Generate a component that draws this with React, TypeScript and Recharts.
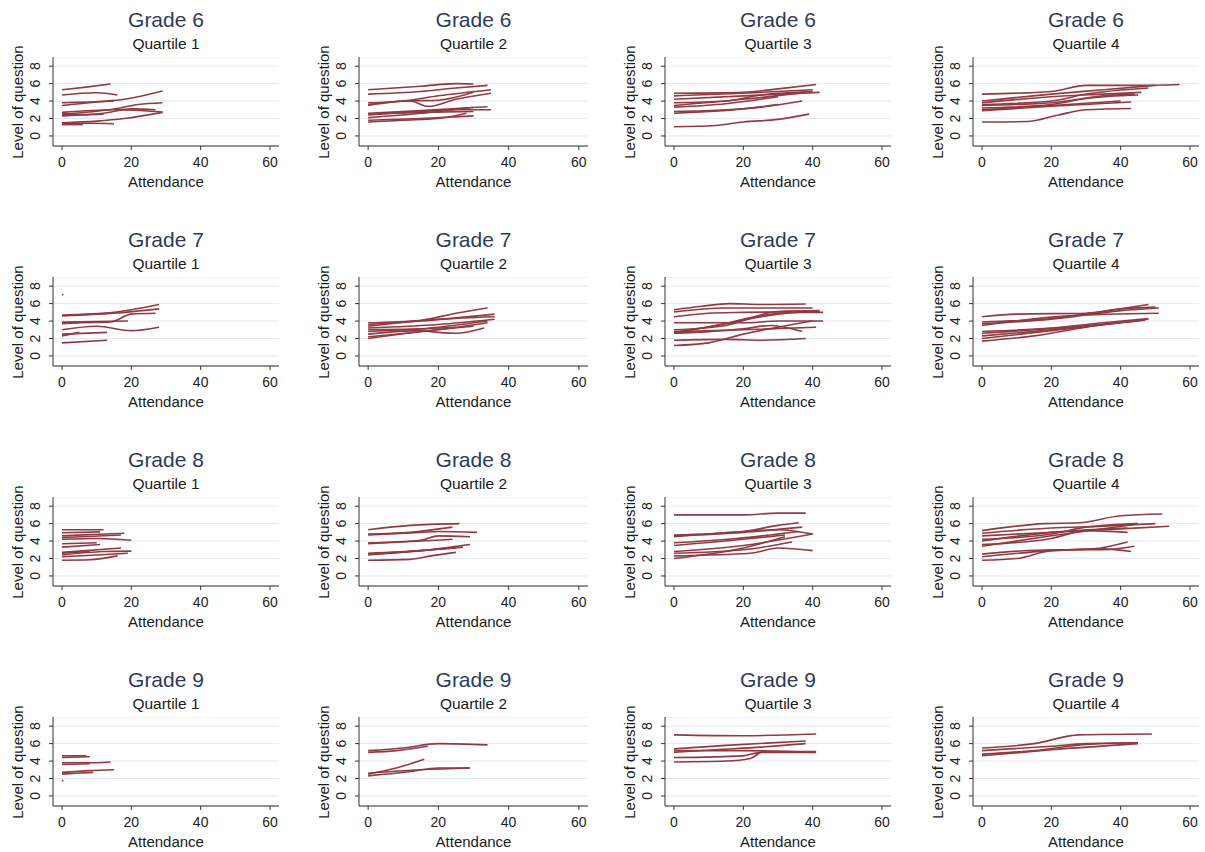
import React from "react";
import { CartesianGrid, Line, LineChart, XAxis, YAxis } from "recharts";

type Pt = [number, number];

// each trajectory: [attendance, level] points
const g6q1: Pt[][] = [
  [[0, 5.3], [7, 5.6], [14, 5.95]],
  [[0, 4.7], [10, 4.95], [16, 4.7]],
  [[0, 3.5], [10, 3.9], [18, 4.2], [29, 5.15]],
  [[0, 3.8], [8, 3.9], [15, 4.0]],
  [[0, 2.5], [15, 3.1], [22, 3.6], [29, 3.8]],
  [[0, 2.7], [15, 3.0], [29, 2.75]],
  [[0, 2.3], [12, 2.6], [20, 3.1], [27, 3.0]],
  [[0, 2.5], [6, 2.45], [12, 2.5]],
  [[0, 1.5], [10, 1.7], [18, 2.0], [29, 2.7]],
  [[0, 1.4], [8, 1.45], [15, 1.4]],
  [[0, 1.3], [6, 1.3]],
];
const g6q2: Pt[][] = [
  [[0, 5.3], [15, 5.7], [25, 6.0], [30, 5.95]],
  [[0, 4.8], [15, 5.1], [25, 5.5], [34, 5.8]],
  [[0, 3.8], [10, 4.0], [20, 4.6], [35, 5.3]],
  [[0, 3.5], [12, 4.0], [17, 3.4], [25, 4.2], [35, 4.9]],
  [[0, 3.6], [10, 4.0], [20, 4.1], [30, 5.0]],
  [[0, 2.6], [15, 2.9], [34, 3.35]],
  [[0, 2.4], [15, 2.8], [25, 3.0], [35, 3.0]],
  [[0, 2.1], [15, 2.6], [30, 3.3]],
  [[0, 1.8], [15, 2.0], [30, 2.3]],
  [[0, 1.6], [10, 1.8], [20, 2.0], [28, 2.6]],
  [[0, 2.5], [15, 2.7], [30, 2.8]],
];
const g6q3: Pt[][] = [
  [[0, 4.9], [20, 5.0], [30, 5.4], [41, 5.9]],
  [[0, 4.6], [20, 4.9], [40, 5.3]],
  [[0, 4.2], [20, 4.6], [42, 5.0]],
  [[0, 3.8], [15, 4.0], [25, 4.7], [40, 5.1]],
  [[0, 3.5], [20, 4.2], [38, 5.0]],
  [[0, 3.3], [15, 3.7], [30, 4.5]],
  [[0, 2.8], [15, 3.0], [25, 3.3], [37, 4.0]],
  [[0, 2.6], [20, 3.1], [30, 3.6]],
  [[0, 1.05], [12, 1.2], [20, 1.6], [30, 1.9], [39, 2.5]],
];
const g6q4: Pt[][] = [
  [[0, 4.8], [20, 5.1], [30, 5.8], [45, 5.8], [57, 5.9]],
  [[0, 4.0], [20, 4.8], [35, 5.3], [50, 5.8]],
  [[0, 3.8], [20, 4.5], [35, 4.8], [46, 5.0]],
  [[0, 3.6], [20, 4.0], [30, 4.8], [48, 5.5]],
  [[0, 3.5], [20, 3.8], [35, 4.6], [44, 4.8]],
  [[0, 3.2], [20, 3.6], [30, 4.3], [45, 4.7]],
  [[0, 2.9], [20, 3.4], [43, 3.9]],
  [[0, 3.0], [20, 3.5], [40, 4.0]],
  [[0, 1.6], [13, 1.65], [22, 2.4], [30, 3.0], [43, 3.15]],
];

const g7q1: Pt[][] = [
  [[0, 7.05], [0.4, 7.0]],
  [[0, 4.7], [15, 5.0], [20, 5.3], [28, 5.9]],
  [[0, 4.6], [15, 4.9], [28, 5.4]],
  [[0, 3.8], [14, 3.9], [20, 4.8], [27, 4.9]],
  [[0, 3.9], [10, 3.95], [19, 4.0]],
  [[0, 3.7], [5, 3.8]],
  [[0, 3.0], [10, 3.4], [20, 2.9], [28, 3.3]],
  [[0, 2.5], [13, 2.7]],
  [[0, 2.3], [5, 2.7]],
  [[0, 1.5], [13, 1.8]],
];
const g7q2: Pt[][] = [
  [[0, 3.8], [15, 4.1], [25, 4.9], [34, 5.5]],
  [[0, 3.6], [15, 4.0], [36, 4.8]],
  [[0, 3.4], [20, 4.2], [36, 4.5]],
  [[0, 3.2], [20, 3.6], [36, 4.2]],
  [[0, 2.8], [20, 3.3], [34, 4.0]],
  [[0, 2.5], [15, 2.9], [20, 2.7], [25, 2.6], [33, 3.2]],
  [[0, 2.0], [15, 2.8], [30, 3.4]],
  [[0, 2.2], [20, 3.0], [34, 3.8]],
  [[0, 3.0], [15, 3.1], [25, 3.3]],
];
const g7q3: Pt[][] = [
  [[0, 5.3], [8, 5.7], [16, 6.0], [25, 5.9], [38, 5.95]],
  [[0, 5.05], [15, 5.5], [40, 5.5]],
  [[0, 4.5], [10, 4.9], [20, 5.0], [42, 5.1]],
  [[0, 3.8], [20, 3.8], [30, 4.0], [43, 4.0]],
  [[0, 2.7], [12, 3.5], [25, 4.6], [35, 5.0], [43, 5.0]],
  [[0, 2.6], [15, 3.7], [30, 4.8], [40, 5.1]],
  [[0, 2.8], [20, 3.0], [41, 3.3]],
  [[0, 2.6], [20, 3.1], [28, 3.5], [37, 2.8]],
  [[0, 3.0], [15, 3.5], [30, 5.1], [42, 5.2]],
  [[0, 1.8], [15, 1.9], [25, 1.8], [38, 2.0]],
  [[0, 1.2], [10, 1.5], [20, 2.5], [30, 3.3], [40, 4.0]],
];
const g7q4: Pt[][] = [
  [[0, 4.5], [10, 4.8], [30, 4.9], [40, 5.4], [50, 5.6]],
  [[0, 3.9], [20, 4.3], [35, 5.1], [48, 5.9]],
  [[0, 3.7], [20, 4.2], [40, 5.2], [51, 5.5]],
  [[0, 3.5], [25, 4.6], [51, 4.9]],
  [[0, 2.8], [20, 3.2], [35, 3.8], [48, 4.3]],
  [[0, 2.6], [25, 3.3], [47, 4.1]],
  [[0, 2.3], [20, 3.0], [45, 4.0]],
  [[0, 1.7], [15, 2.3], [30, 3.3], [48, 4.2]],
  [[0, 2.0], [20, 2.9], [40, 3.8]],
];

const g8q1: Pt[][] = [
  [[0, 5.3], [12, 5.3]],
  [[0, 4.95], [11, 5.05]],
  [[0, 4.6], [9, 4.75], [18, 4.9]],
  [[0, 4.4], [9, 4.55], [17, 4.7]],
  [[0, 4.2], [10, 4.3], [20, 4.1]],
  [[0, 3.7], [10, 3.8]],
  [[0, 3.3], [11, 3.6]],
  [[0, 2.7], [17, 3.2]],
  [[0, 2.4], [12, 2.8], [20, 2.85]],
  [[0, 2.2], [10, 2.4], [19, 2.6]],
  [[0, 1.8], [8, 1.85], [16, 2.3]],
  [[0, 2.6], [8, 2.8]],
];
const g8q2: Pt[][] = [
  [[0, 5.3], [12, 5.8], [26, 6.0]],
  [[0, 4.8], [12, 5.0], [24, 5.6]],
  [[0, 4.7], [15, 5.0], [20, 5.1], [31, 5.0]],
  [[0, 3.8], [15, 4.1], [20, 4.6], [29, 4.5]],
  [[0, 3.7], [15, 4.0], [24, 4.2]],
  [[0, 2.5], [15, 2.9], [29, 3.6]],
  [[0, 2.4], [15, 2.9], [27, 3.3]],
  [[0, 1.8], [12, 1.9], [18, 2.3], [25, 2.7]],
  [[0, 2.6], [15, 2.9], [25, 3.2]],
];
const g8q3: Pt[][] = [
  [[0, 7.0], [20, 7.0], [30, 7.2], [38, 7.2]],
  [[0, 4.7], [20, 5.1], [30, 5.8], [36, 6.1]],
  [[0, 4.6], [20, 5.0], [37, 5.6]],
  [[0, 4.5], [20, 5.1], [30, 5.3], [40, 4.8]],
  [[0, 3.8], [18, 4.3], [36, 5.1]],
  [[0, 3.5], [20, 4.2], [32, 4.7]],
  [[0, 2.8], [20, 3.5], [40, 4.8]],
  [[0, 2.6], [20, 3.0], [34, 3.9]],
  [[0, 2.3], [22, 2.6], [30, 3.2], [40, 2.9]],
  [[0, 2.0], [20, 3.2], [32, 4.5]],
];
const g8q4: Pt[][] = [
  [[0, 5.2], [18, 6.0], [28, 6.1], [40, 6.9], [52, 7.1]],
  [[0, 4.9], [20, 5.5], [35, 5.7], [50, 6.0]],
  [[0, 4.6], [20, 5.0], [40, 5.4], [54, 5.7]],
  [[0, 4.2], [20, 4.8], [30, 5.6], [45, 6.0]],
  [[0, 4.0], [20, 5.0], [42, 5.5]],
  [[0, 3.6], [20, 4.3], [30, 5.2], [42, 5.0]],
  [[0, 3.4], [20, 4.6], [44, 5.9]],
  [[0, 2.5], [20, 3.0], [35, 3.0], [44, 3.4]],
  [[0, 2.2], [20, 2.9], [32, 3.1], [42, 3.9]],
  [[0, 1.8], [10, 2.0], [20, 2.9], [35, 3.1], [43, 2.8]],
];

const g9q1: Pt[][] = [
  [[0, 4.6], [7, 4.6]],
  [[0, 4.4], [8, 4.5]],
  [[0, 3.8], [7, 3.8], [14, 3.9]],
  [[0, 3.6], [8, 3.7]],
  [[0, 2.7], [8, 2.9], [15, 3.0]],
  [[0, 2.5], [4, 2.6], [9, 2.7]],
  [[0, 1.8], [0.4, 1.7]],
];
const g9q2: Pt[][] = [
  [[0, 5.2], [10, 5.5], [20, 6.0], [34, 5.85]],
  [[0, 5.0], [8, 5.2], [17, 5.7]],
  [[0, 2.5], [8, 3.2], [16, 4.2]],
  [[0, 2.6], [15, 3.0], [29, 3.2]],
  [[0, 2.3], [12, 2.8], [20, 3.2], [29, 3.2]],
];
const g9q3: Pt[][] = [
  [[0, 7.0], [20, 6.9], [41, 7.1]],
  [[0, 5.4], [15, 5.8], [38, 6.3]],
  [[0, 5.0], [12, 5.3], [25, 5.6], [38, 6.0]],
  [[0, 5.2], [20, 5.2], [40, 5.0]],
  [[0, 4.4], [20, 4.6], [25, 5.0], [41, 5.0]],
  [[0, 3.9], [15, 4.0], [22, 4.3], [26, 5.1], [41, 5.1]],
];
const g9q4: Pt[][] = [
  [[0, 5.5], [15, 6.0], [28, 7.0], [49, 7.1]],
  [[0, 5.2], [20, 5.7], [30, 6.0], [45, 6.1]],
  [[0, 4.8], [15, 5.2], [30, 5.9], [44, 6.1]],
  [[0, 4.6], [20, 5.3], [45, 6.0]],
];

const grades = [6, 7, 8, 9];
const quartiles = [1, 2, 3, 4];
const panelLines: Pt[][][][] = [
  [g6q1, g6q2, g6q3, g6q4],
  [g7q1, g7q2, g7q3, g7q4],
  [g8q1, g8q2, g8q3, g8q4],
  [g9q1, g9q2, g9q3, g9q4],
];
const xTicks = [0, 20, 40, 60];
const yTicks = [0, 2, 4, 6, 8];

const AXIS_X = [53, 359, 665, 973];
const PLOT_W = [226, 229, 226, 226];
const ROW_Y = [0, 220, 440, 660];
const PLOT_H = 89;
const LINE_COLOR = "#903a43";
const TITLE_COLOR = "#2d3b5e";
const FONT = '"Liberation Sans", Arial, Helvetica, sans-serif';

const YTick = (props: any) => {
  const { x, y, payload } = props;
  const bx = x - 7;
  return (
    <text
      x={bx}
      y={y}
      transform={`rotate(-90 ${bx} ${y})`}
      textAnchor="middle"
      fontSize={14}
      fill="#222"
    >
      {payload.value}
    </text>
  );
};

function Panel({ row, col }: { row: number; col: number }) {
  const ax = AXIS_X[col];
  const pw = PLOT_W[col];
  const top = ROW_Y[row];
  const plotTop = top + 57;
  const lines = panelLines[row][col];

  return (
    <>
      <div
        style={{
          position: "absolute",
          left: ax,
          width: pw,
          top: top + 9,
          textAlign: "center",
          fontSize: 21,
          lineHeight: "21px",
          color: TITLE_COLOR,
        }}
      >
        Grade {grades[row]}
      </div>
      <div
        style={{
          position: "absolute",
          left: ax,
          width: pw,
          top: top + 36,
          textAlign: "center",
          fontSize: 15.5,
          lineHeight: "16px",
          color: "#1a1a1a",
        }}
      >
        Quartile {quartiles[col]}
      </div>
      <div
        style={{
          position: "absolute",
          left: ax - 35 - 100,
          width: 200,
          top: plotTop + PLOT_H / 2 - 8,
          lineHeight: "16px",
          textAlign: "center",
          fontSize: 15,
          color: "#1a1a1a",
          transform: "rotate(-90deg)",
        }}
      >
        Level of question
      </div>
      <div
        style={{
          position: "absolute",
          left: ax,
          width: pw,
          top: plotTop + PLOT_H + 28,
          textAlign: "center",
          fontSize: 15,
          lineHeight: "16px",
          color: "#1a1a1a",
        }}
      >
        Attendance
      </div>
      <div style={{ position: "absolute", left: ax - 45, top: plotTop }}>
        <LineChart
          width={45 + pw + 2}
          height={PLOT_H + 30}
          margin={{ top: 0, right: 2, bottom: 0, left: 0 }}
        >
          <CartesianGrid vertical={false} stroke="#e3e9ee" strokeWidth={1} />
          <XAxis
            type="number"
            dataKey="x"
            domain={[-2.6, 62.6]}
            ticks={xTicks}
            interval={0}
            height={30}
            tickSize={4}
            tickMargin={7}
            stroke="#333"
            tick={{ fontSize: 14, fill: "#222" }}
          />
          <YAxis
            type="number"
            domain={[-1.15, 9.05]}
            ticks={yTicks}
            interval={0}
            width={45}
            tickSize={4}
            tickMargin={2}
            stroke="#333"
            tick={<YTick />}
          />
          {lines.map((ln, i) => (
            <Line
              key={i}
              data={ln.map(([x, y]) => ({ x, y }))}
              dataKey="y"
              type="monotone"
              stroke={LINE_COLOR}
              strokeWidth={1.6}
              dot={false}
              activeDot={false}
              isAnimationActive={false}
            />
          ))}
        </LineChart>
      </div>
    </>
  );
}

export default function App() {
  return (
    <div
      style={{
        position: "absolute",
        left: 0,
        top: 0,
        width: 1205,
        height: 852,
        background: "#fff",
        fontFamily: FONT,
      }}
    >
      {grades.map((_, r) =>
        quartiles.map((_, c) => <Panel key={`${r}-${c}`} row={r} col={c} />)
      )}
    </div>
  );
}
